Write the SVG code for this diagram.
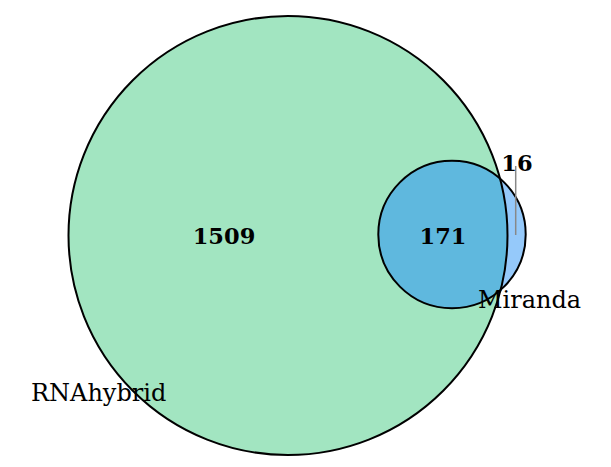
<svg xmlns="http://www.w3.org/2000/svg" width="611" height="467" viewBox="0 0 611 467">
<style>
.num{font-family:"DejaVu Serif",serif;font-weight:bold;font-size:22.5px;text-anchor:middle;fill:#000}
.lbl{font-family:"DejaVu Serif",serif;font-size:24px;fill:#000}
.outline{fill:none;stroke:#000;stroke-width:2}
</style>
<defs>
<clipPath id="bigclip"><circle cx="288" cy="235.5" r="219.5"/></clipPath>
</defs>
<rect width="611" height="467" fill="#fff"/>
<g id="RNAhybrid">
<circle cx="288" cy="235.5" r="219.5" fill="#a2e5c1"/>
</g>
<g id="Miranda">
<circle cx="452" cy="234.5" r="73.7" fill="#95c9fa"/>
<circle cx="452" cy="234.5" r="73.7" fill="#5fb8de" clip-path="url(#bigclip)"/>
</g>
<g id="outlines">
<circle class="outline" cx="288" cy="235.5" r="219.5"/>
<circle class="outline" cx="452" cy="234.5" r="73.7"/>
</g>
<g id="connectors">
<line x1="515.7" y1="166" x2="515.7" y2="235" stroke="#888" stroke-width="1.5"/>
</g>
<g id="labels">
<text class="num" x="224" y="244">1509</text>
<text class="num" x="443" y="244">171</text>
<text class="num" x="517" y="171">16</text>
<text class="lbl" x="31" y="401">RNAhybrid</text>
<text class="lbl" x="478" y="308">Miranda</text>
</g>
</svg>
